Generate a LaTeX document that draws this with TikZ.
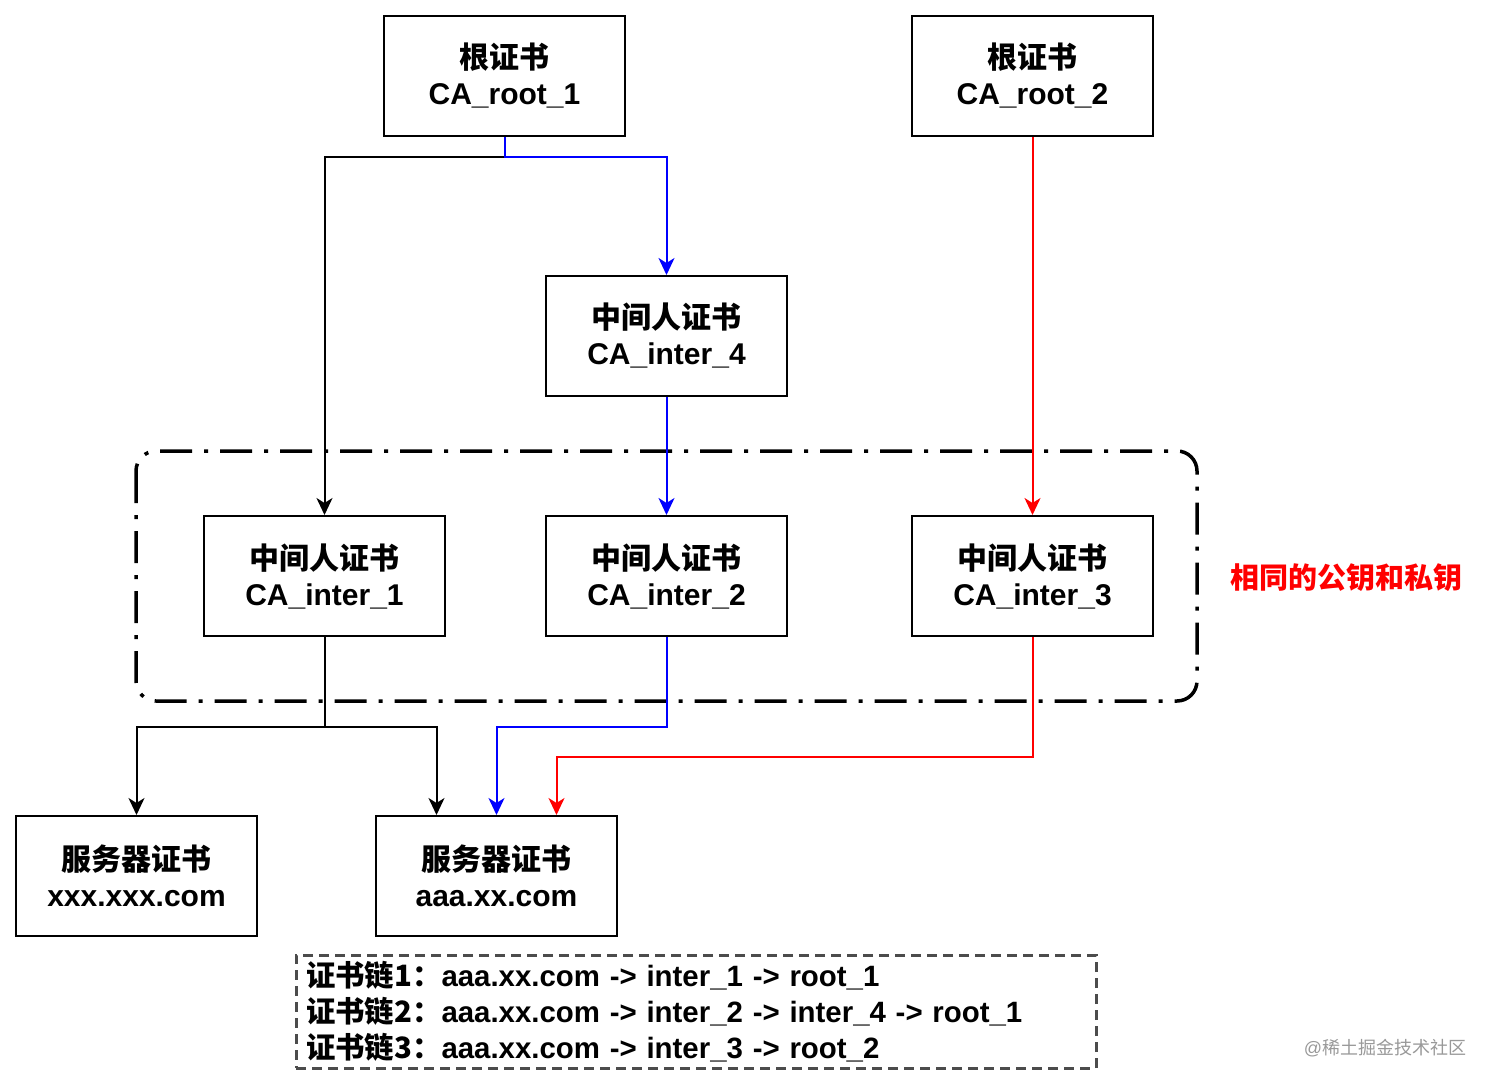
\documentclass[tikz,border=0pt]{standalone}
\usepackage{fontspec}
\setmainfont{Liberation Sans}
\newfontfamily\cjk{Noto Sans CJK SC}
\usetikzlibrary{arrows.meta,calc}
\newcommand{\zh}[1]{{\cjk #1}}
\tikzset{
  cert/.style={draw=black,line width=2pt,minimum width=241pt,minimum height=120pt,
    inner sep=0pt,align=center,font=\fontsize{30}{36}\selectfont\bfseries},
  link/.style={line width=2pt,-{Stealth[length=17pt,width=16pt,inset=5pt]}},
}

\begin{document}
\begin{tikzpicture}[x=1pt,y=-1pt]
		% Canvas
		\fill[white] (0,0) rectangle (1494,1087);
		\useasboundingbox (0,0) rectangle (1494,1087);
		% Group of inter certificates with same key pair
		\draw[line width=3.5pt,rounded corners=20pt,dash pattern=on 32pt off 12pt on 4pt off 12pt]
		(136,451) rectangle (1197,701);
		\node[text=red,font=\fontsize{29}{36}\selectfont\bfseries] (samekey) at (1346,578) {\zh{相同的公钥和私钥}};
		% Certificates
		\node[cert] (root1) at (504.5,76) {\zh{根证书}\\CA\_root\_1};
		\node[cert] (root2) at (1032.5,76) {\zh{根证书}\\CA\_root\_2};
		\node[cert] (inter4) at (666.5,336) {\zh{中间人证书}\\CA\_inter\_4};
		\node[cert] (inter1) at (324.5,576) {\zh{中间人证书}\\CA\_inter\_1};
		\node[cert] (inter2) at (666.5,576) {\zh{中间人证书}\\CA\_inter\_2};
		\node[cert] (inter3) at (1032.5,576) {\zh{中间人证书}\\CA\_inter\_3};
		\node[cert] (server1) at (136.5,876) {\zh{服务器证书}\\xxx.xxx.com};
		\node[cert] (server2) at (496.5,876) {\zh{服务器证书}\\aaa.xx.com};
		% Black links
		\draw[link] (root1.south) -- ++(0,20) -| (inter1.north);
		\draw[link] (inter1.south) -- ++(0,90) -| (server1.north);
		\draw[link] (inter1.south) -- ++(0,90) -| ([xshift=-60pt]server2.north);
		% Blue links
		\draw[link,blue] (root1.south) -- ++(0,20) -| (inter4.north);
		\draw[link,blue] (inter4.south) -- (inter2.north);
		\draw[link,blue] (inter2.south) -- ++(0,90) -| (server2.north);
		% Red links
		\draw[link,red] (root2.south) -- (inter3.north);
		\draw[link,red] (inter3.south) -- ++(0,120) -| ([xshift=60pt]server2.north);
		% Chains
		\node[draw=black!70,line width=3pt,dash pattern=on 10pt off 6pt,minimum width=800pt,
		minimum height=113pt,text width=780pt,inner xsep=10pt,align=left,
		font=\fontsize{29.4}{36}\selectfont\bfseries] (chains) at (696,1011.5)
		{\zh{证书链1：}aaa.xx.com -> inter\_1 -> root\_1\\
		 \zh{证书链2：}aaa.xx.com -> inter\_2 -> inter\_4 -> root\_1\\
		 \zh{证书链3：}aaa.xx.com -> inter\_3 -> root\_2};
		% Site mark
		\node[text=black!40,font=\fontsize{18}{18}\selectfont] (mark) at (1385,1048) {@\zh{稀土掘金技术社区}};
	\end{tikzpicture}
\end{document}
